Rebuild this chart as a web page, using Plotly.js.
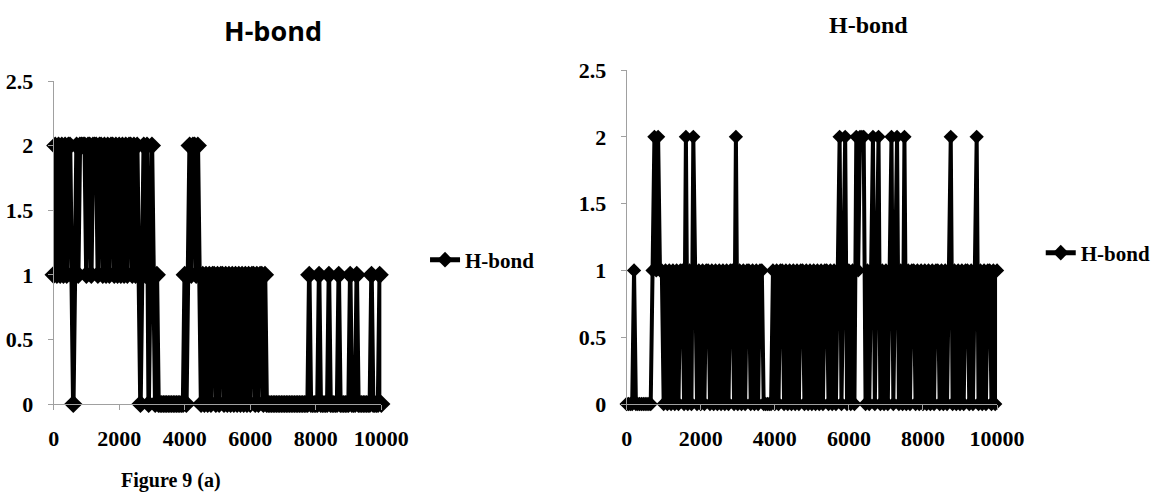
<!DOCTYPE html>
<html>
<head>
<meta charset="utf-8">
<script src="https://cdn.plot.ly/plotly-3.0.1.min.js"></script>
<style>
  html, body { margin: 0; padding: 0; background: #fff; }
  #chart { width: 1156px; height: 492px; }
</style>
</head>
<body>
<div id="chart"></div>
<script>
// Time step of the simulation snapshots (x axis: 0 .. 10000)
const STEP = 50;

// Left panel, Figure 9 (a): H-bond count per snapshot
const hbondA = [
  1,2,1,2,1,2,1,2,1,2,
  2,1,0,1,2,1,2,2,2,2,
  1,2,2,1,2,2,2,1,2,2,
  1,2,1,2,1,2,2,1,2,1,
  2,1,2,1,2,1,2,2,1,2,
  1,2,1,0,1,2,1,2,0,1,
  2,1,0,1,0,0,0,0,0,0,
  0,0,0,0,0,0,0,0,0,0,
  1,0,1,2,1,2,2,1,2,1,
  0,1,0,1,0,1,0,1,1,0,
  1,0,1,1,0,1,0,1,0,1,
  0,1,0,1,0,1,0,1,0,1,
  0,1,1,0,1,0,1,1,0,1,
  0,0,0,0,0,0,0,0,0,0,
  0,0,0,0,0,0,0,0,0,0,
  0,0,0,0,0,0,1,0,0,0,
  0,0,1,0,0,0,0,0,1,0,
  0,0,0,0,1,0,0,0,0,0,
  0,1,0,0,0,1,0,0,0,0,
  0,0,0,0,1,0,0,0,0,1,
  0
];

// Right panel: H-bond count per snapshot
const hbondB = [
  0,0,0,0,1,0,0,0,0,0,
  0,0,0,0,1,2,1,2,1,1,
  0,1,0,1,0,1,0,1,0,1,
  1,0,2,0,1,0,2,1,0,1,
  0,1,0,1,1,0,1,0,1,0,
  1,0,1,0,1,0,1,1,0,2,
  0,1,0,1,0,1,1,0,1,0,
  1,0,1,1,0,0,0,0,0,1,
  0,1,0,1,1,0,1,0,1,0,
  1,0,1,0,1,1,0,1,0,1,
  0,1,0,1,0,1,0,1,1,0,
  1,0,1,0,1,2,0,1,2,0,
  1,0,1,0,2,1,2,2,2,0,
  1,0,1,2,0,1,2,0,1,0,
  1,0,1,2,0,1,2,0,1,0,
  2,0,1,0,1,1,0,1,0,1,
  0,1,0,1,0,1,0,1,1,0,
  1,0,1,0,1,2,0,1,0,1,
  0,1,0,1,1,0,1,0,1,2,
  0,1,0,1,0,1,1,0,1,0,
  1
];

const xTickVals = [0, 2000, 4000, 6000, 8000, 10000];
const yTickVals = [0, 0.5, 1, 1.5, 2, 2.5];
const seriesName = "H-bond";
const titleText = "H-bond";
const captionText = "Figure 9 (a)";

const timeA = hbondA.map((_, i) => i * STEP);
const timeB = hbondB.map((_, i) => i * STEP);

const serif = "Liberation Serif, Times New Roman, serif";
const sans = "Open Sans, Noto Sans, sans-serif";

const traceA = {
  x: timeA, y: hbondA, type: "scatter", mode: "lines+markers",
  name: seriesName, xaxis: "x", yaxis: "y", legend: "legend",
  line: { color: "#000", width: 4.5 },
  marker: { symbol: "diamond", size: 14, color: "#000" },
  cliponaxis: false, hoverinfo: "x+y"
};
const traceB = {
  x: timeB, y: hbondB, type: "scatter", mode: "lines+markers",
  name: seriesName, xaxis: "x2", yaxis: "y2", legend: "legend2",
  line: { color: "#000", width: 4 },
  marker: { symbol: "diamond", size: 11, color: "#000" },
  cliponaxis: false, hoverinfo: "x+y"
};

const tickFont = { family: serif, size: 22, color: "#000", weight: "bold" };

function xAxis(domain, anchor) {
  return {
    domain: domain, anchor: anchor, range: [0, 10000],
    tickvals: xTickVals, ticktext: xTickVals.map(String),
    showgrid: false, zeroline: false,
    showline: true, linecolor: "#a0a0a0", linewidth: 1,
    ticks: "outside", ticklen: 5, tickcolor: "#a0a0a0",
    ticklabelstandoff: 10, tickfont: tickFont
  };
}
function yAxis(domain, anchor) {
  return {
    domain: domain, anchor: anchor, range: [0, 2.5],
    tickvals: yTickVals, ticktext: yTickVals.map(String),
    showgrid: false, zeroline: false,
    showline: true, linecolor: "#a0a0a0", linewidth: 1,
    ticks: "outside", ticklen: 5, tickcolor: "#a0a0a0",
    ticklabelstandoff: 10, tickfont: tickFont
  };
}

const W = 1156, H = 492;
const layout = {
  width: W, height: H,
  margin: { l: 0, r: 0, t: 0, b: 0 },
  paper_bgcolor: "#fff", plot_bgcolor: "#fff",
  showlegend: true,
  xaxis: xAxis([54 / W, 384 / W], "y"),
  yaxis: yAxis([(H - 404) / H, (H - 81) / H], "x"),
  xaxis2: xAxis([631 / W, 1004 / W], "y2"),
  yaxis2: yAxis([(H - 404) / H, (H - 70) / H], "x2"),
  legend: {
    x: 428 / W, y: (H - 260) / H, xanchor: "left", yanchor: "middle",
    font: { family: serif, size: 21, color: "#000", weight: "bold" },
    bgcolor: "rgba(0,0,0,0)", itemsizing: "constant"
  },
  legend2: {
    x: 1048 / W, y: (H - 253) / H, xanchor: "left", yanchor: "middle",
    font: { family: serif, size: 21, color: "#000", weight: "bold" },
    bgcolor: "rgba(0,0,0,0)", itemsizing: "constant"
  },
  annotations: [
    { text: titleText, xref: "paper", yref: "paper", x: 275 / W, y: (H - 30) / H,
      xanchor: "center", yanchor: "middle", showarrow: false,
      font: { family: sans, size: 27, color: "#000", weight: "bold" } },
    { text: titleText, xref: "paper", yref: "paper", x: 875 / W, y: (H - 25) / H,
      xanchor: "center", yanchor: "middle", showarrow: false,
      font: { family: serif, size: 24, color: "#000", weight: "bold" } },
    { text: captionText, xref: "paper", yref: "paper", x: 172 / W, y: (H - 480) / H,
      xanchor: "center", yanchor: "middle", showarrow: false,
      font: { family: serif, size: 20, color: "#000", weight: "bold" } }
  ]
};

Plotly.newPlot("chart", [traceA, traceB], layout, { displayModeBar: false, staticPlot: true });
</script>
</body>
</html>
